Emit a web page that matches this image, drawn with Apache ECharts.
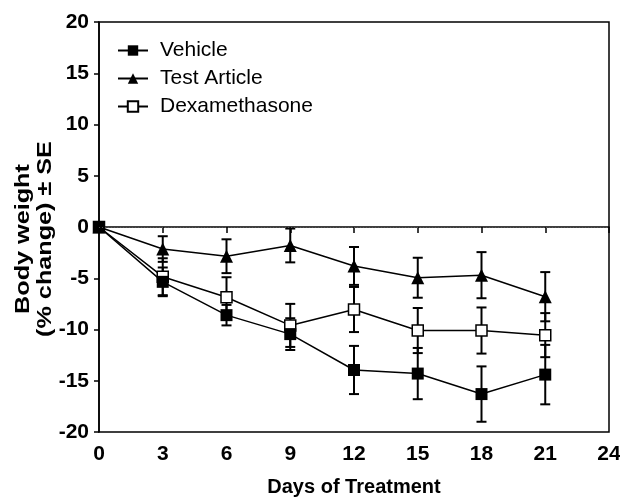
<!DOCTYPE html>
<html>
<head>
<meta charset="utf-8">
<script src="https://cdn.jsdelivr.net/npm/echarts@6/dist/echarts.min.js"></script>
<style>html,body{margin:0;padding:0;background:#fff}#c{width:620px;height:497px}</style>
</head>
<body>
<div id="c"></div>
<script>
var days = [0, 3, 6, 9, 12, 15, 18, 21];
var vehicle = [0, -5.35, -8.6, -10.45, -13.95, -14.3, -16.3, -14.4];
var vehicleSE = [0, 1.4, 1.0, 1.55, 2.35, 2.5, 2.7, 2.9];
var testArticle = [0, -2.15, -2.85, -1.8, -3.8, -4.95, -4.7, -6.8];
var testArticleSE = [0, 1.25, 1.65, 1.65, 1.85, 1.95, 2.25, 2.4];
var dexa = [0, -4.85, -6.85, -9.6, -8.05, -10.1, -10.1, -10.55];
var dexaSE = [0, 1.8, 1.95, 2.1, 2.2, 2.2, 2.25, 2.15];
var xTicks = [0, 3, 6, 9, 12, 15, 18, 21, 24];
var yTicks = [-20, -15, -10, -5, 0, 5, 10, 15, 20];

function pts(y) { return days.map(function (d, i) { return [d, y[i]]; }); }
function errs(y, se) { return days.map(function (d, i) { return [d, y[i] - se[i], y[i] + se[i]]; }); }

function errRender(params, api) {
  var x = api.value(0);
  var lo = api.coord([x, api.value(1)]);
  var hi = api.coord([x, api.value(2)]);
  var w = 5;
  var st = { stroke: '#000', lineWidth: 2 };
  return {
    type: 'group',
    children: [
      { type: 'line', shape: { x1: lo[0], y1: lo[1], x2: hi[0], y2: hi[1] }, style: st },
      { type: 'line', shape: { x1: lo[0] - w, y1: lo[1], x2: lo[0] + w, y2: lo[1] }, style: st },
      { type: 'line', shape: { x1: hi[0] - w, y1: hi[1], x2: hi[0] + w, y2: hi[1] }, style: st }
    ]
  };
}

var font = '"Liberation Sans", Arial, sans-serif';
var chart = echarts.init(document.getElementById('c'), null, { renderer: 'canvas' });
chart.setOption({
  animation: false,
  backgroundColor: '#fff',
  grid: { left: 99, right: 11, top: 22, bottom: 65, containLabel: false, outerBoundsMode: 'none',
    show: true, borderColor: '#000', borderWidth: 1.5, backgroundColor: 'transparent' },
  legend: {
    left: 112, top: 35, orient: 'vertical', itemWidth: 30, itemHeight: 13, itemGap: 7,
    data: ['Vehicle', 'Test Article', 'Dexamethasone'],
    textStyle: { fontFamily: font, fontSize: 21, color: '#000', lineHeight: 21, padding: [0, 0, 0, 7] }
  },
  xAxis: {
    type: 'value', min: 0, max: 24, interval: 3,
    axisLine: { lineStyle: { color: '#000', width: 1.5 } },
    axisTick: { show: true, length: 6, lineStyle: { color: '#000', width: 1.5 } },
    splitLine: { show: false },
    axisLabel: { color: '#000', fontFamily: font, fontWeight: 'bold', fontSize: 21, margin: 12,
      formatter: function (v) { return xTicks.indexOf(v) >= 0 ? String(v) : ''; } },
    name: 'Days of Treatment', nameLocation: 'middle', nameGap: 45,
    nameTextStyle: { color: '#000', fontFamily: font, fontWeight: 'bold', fontSize: 20 }
  },
  yAxis: {
    type: 'value', min: -20, max: 20, interval: 5,
    axisLine: { lineStyle: { color: '#000', width: 1.5 } },
    axisTick: { show: true, length: 5, lineStyle: { color: '#000', width: 1.5 } },
    splitLine: { show: false },
    axisLabel: { color: '#000', fontFamily: font, fontWeight: 'bold', fontSize: 21, margin: 10,
      formatter: function (v) { return yTicks.indexOf(v) >= 0 ? String(v) : ''; } }
  },
  graphic: [
    { type: 'text', x: 23, y: 239, rotation: Math.PI / 2, scaleX: 1.2,
      style: { text: 'Body weight', font: 'bold 21px ' + font, fill: '#000', textAlign: 'center', textVerticalAlign: 'middle' } },
    { type: 'text', x: 45, y: 239, rotation: Math.PI / 2, scaleX: 1.2,
      style: { text: '(% change) \u00b1 SE', font: 'bold 21px ' + font, fill: '#000', textAlign: 'center', textVerticalAlign: 'middle' } }
  ],
  series: [
    { name: 'Dexamethasone', type: 'line', data: pts(dexa), symbol: 'rect', symbolSize: 11, z: 3,
      lineStyle: { color: '#000', width: 1.5 }, itemStyle: { color: '#fff', borderColor: '#000', borderWidth: 1.5 },
      markLine: { silent: true, symbol: 'none', label: { show: false },
        lineStyle: { color: '#555', type: [1, 2], width: 1 }, data: [{ yAxis: 0 }] } },
    { name: 'Vehicle', type: 'line', data: pts(vehicle), symbol: 'rect', symbolSize: 12, z: 4,
      lineStyle: { color: '#000', width: 1.5 }, itemStyle: { color: '#000', borderColor: '#000', borderWidth: 0 } },
    { name: 'Test Article', type: 'line', data: pts(testArticle), symbol: 'triangle', symbolSize: 13, z: 4,
      lineStyle: { color: '#000', width: 1.5 }, itemStyle: { color: '#000', borderColor: '#000', borderWidth: 0 } },
    { type: 'custom', data: errs(dexa, dexaSE), renderItem: errRender, z: 2, silent: true },
    { type: 'custom', data: errs(vehicle, vehicleSE), renderItem: errRender, z: 2, silent: true },
    { type: 'custom', data: errs(testArticle, testArticleSE), renderItem: errRender, z: 2, silent: true }
  ]
});
</script>
</body>
</html>
